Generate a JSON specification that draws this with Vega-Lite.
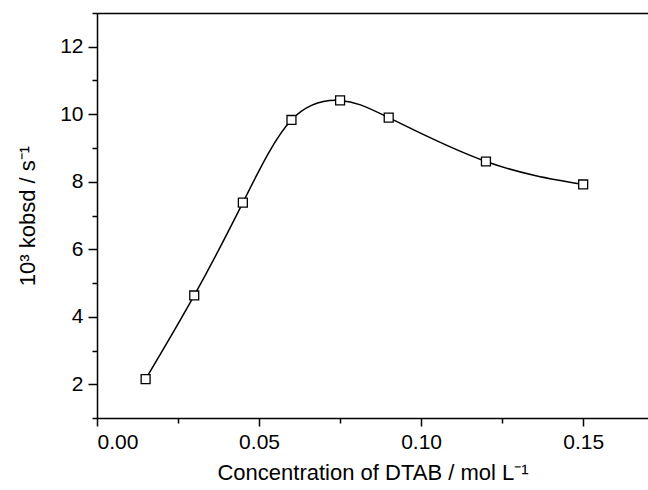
{
  "$schema": "https://vega.github.io/schema/vega-lite/v6.json",
  "width": 551,
  "height": 405,
  "autosize": "none",
  "padding": {"left": 97, "top": 13, "right": 0, "bottom": 72},
  "background": "white",
  "config": {
    "view": {"stroke": null},
    "axis": {
      "grid": false,
      "labelFont": "Liberation Sans",
      "titleFont": "Liberation Sans",
      "labelColor": "black",
      "titleColor": "black",
      "tickColor": "black",
      "domainColor": "black",
      "labelFontSize": 21,
      "titleFontSize": 22,
      "titleFontWeight": "normal",
      "tickWidth": 1.5,
      "domainWidth": 1.5
    }
  },
  "data": {
    "values": [
      {"c": 0.015, "k": 2.15},
      {"c": 0.03, "k": 4.63},
      {"c": 0.045, "k": 7.38},
      {"c": 0.06, "k": 9.83},
      {"c": 0.075, "k": 10.41},
      {"c": 0.09, "k": 9.9},
      {"c": 0.12, "k": 8.6},
      {"c": 0.15, "k": 7.92}
    ]
  },
  "resolve": {"axis": {"x": "independent", "y": "independent"}},
  "layer": [
    {
      "mark": {"type": "line", "interpolate": "natural", "color": "black", "strokeWidth": 1.5},
      "encoding": {
        "x": {
          "field": "c", "type": "quantitative",
          "scale": {"domain": [0, 0.17], "nice": false, "zero": false},
          "axis": {
            "orient": "bottom",
            "values": [0, 0.05, 0.1, 0.15], "format": ".2f",
            "tickSize": 8, "labelPadding": 5,
            "title": "Concentration of DTAB / mol L⁻¹", "titlePadding": 10
          }
        },
        "y": {
          "field": "k", "type": "quantitative",
          "scale": {"domain": [1, 13], "nice": false, "zero": false},
          "axis": {
            "orient": "left",
            "values": [2, 4, 6, 8, 10, 12], "format": "d",
            "tickSize": 9, "labelPadding": 5,
            "title": "10³ kobsd / s⁻¹", "titlePadding": 20
          }
        }
      }
    },
    {
      "mark": {"type": "point", "shape": "square", "size": 80, "filled": true, "fill": "white", "stroke": "black", "strokeWidth": 1.3, "opacity": 1},
      "encoding": {
        "x": {
          "field": "c", "type": "quantitative",
          "axis": {"orient": "bottom", "values": [0.025, 0.075, 0.125], "labels": false, "domain": false, "tickSize": 5, "title": null}
        },
        "y": {
          "field": "k", "type": "quantitative",
          "axis": {"orient": "left", "values": [1, 3, 5, 7, 9, 11, 13], "labels": false, "domain": false, "tickSize": 5, "title": null}
        }
      }
    },
    {
      "mark": {"type": "point", "opacity": 0},
      "encoding": {
        "x": {
          "field": "c", "type": "quantitative",
          "axis": {"orient": "top", "values": [], "labels": false, "ticks": false, "domain": true, "title": null}
        },
        "y": {"field": "k", "type": "quantitative", "axis": null}
      }
    }
  ]
}
